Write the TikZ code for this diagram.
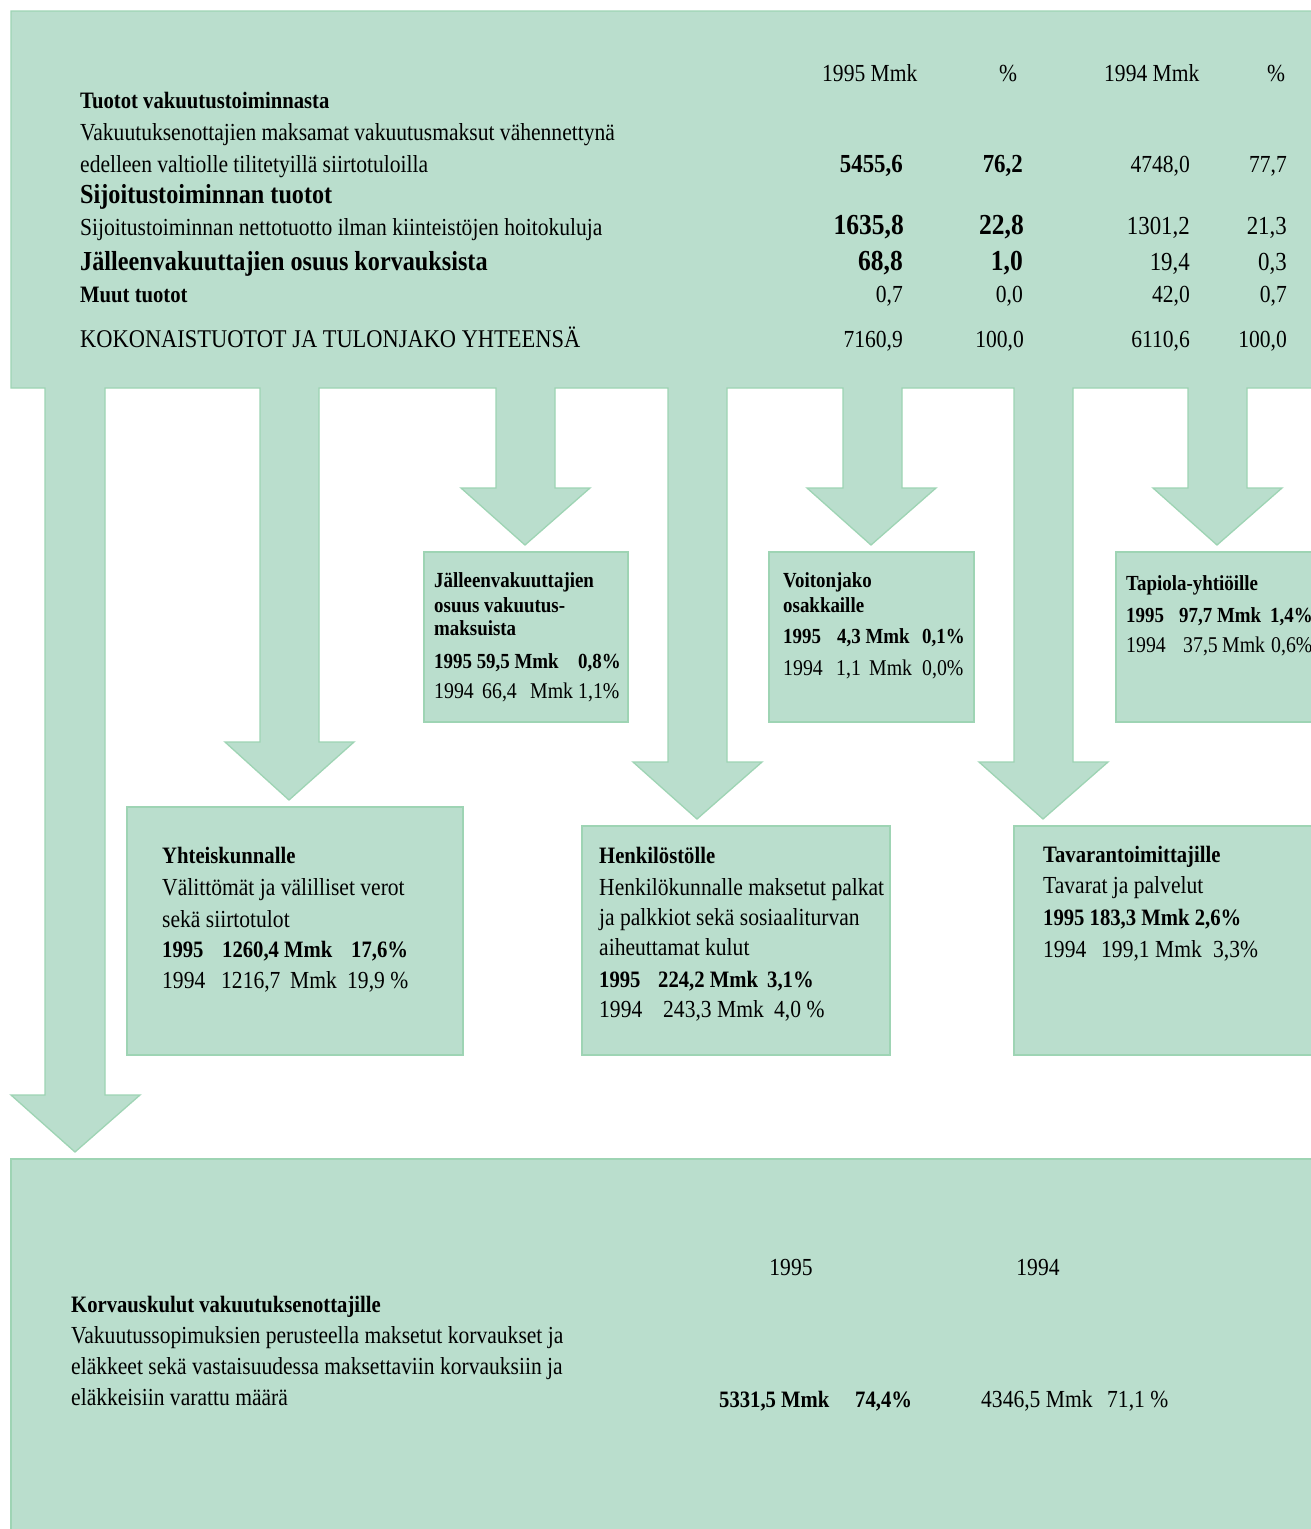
\documentclass[tikz,border=0pt]{standalone}
\usepackage{fontspec}
\setmainfont{Liberation Serif}[FakeStretch=0.88]
\definecolor{boxfill}{RGB}{186,222,205}
\definecolor{boxline}{RGB}{158,212,180}
\begin{document}
\begin{tikzpicture}[x=1pt,y=-1pt,
  panel/.style={fill=boxfill,draw=boxline,line width=1.3pt,line join=miter},
  L/.style={anchor=base west,inner sep=0pt},
  R/.style={anchor=base east,inner sep=0pt},
  C/.style={anchor=base,inner sep=0pt},
  rg/.style={font=\fontsize{24.5}{28}\selectfont},
  bd/.style={font=\fontsize{23.5}{28}\selectfont\bfseries},
  bdl/.style={font=\fontsize{27.5}{30}\selectfont\bfseries},
  nb/.style={font=\fontsize{26}{30}\selectfont\bfseries},
  nbl/.style={font=\fontsize{29}{30}\selectfont\bfseries},
  sm/.style={font=\fontsize{22.5}{26}\selectfont},
  smb/.style={font=\fontsize{21.5}{26}\selectfont\bfseries}]
\useasboundingbox (0,0) rectangle (1310,1529);
\fill[white] (0,0) rectangle (1310,1529);
% top panel with the arrows hanging from it
\draw[panel] (11,11) -- (1316,11) -- (1316,388)
 -- (1247,388) -- (1247,488) -- (1282,488) -- (1217,545) -- (1153,488) -- (1188,488) -- (1188,388)
 -- (1073,388) -- (1073,762) -- (1108,762) -- (1043,819) -- (979,762) -- (1014,762) -- (1014,388)
 -- (902,388) -- (902,488) -- (936,488) -- (871,545) -- (807,488) -- (843,488) -- (843,388)
 -- (727,388) -- (727,762) -- (762,762) -- (697,819) -- (633,762) -- (668,762) -- (668,388)
 -- (555,388) -- (555,488) -- (590,488) -- (525,545) -- (461,488) -- (496,488) -- (496,388)
 -- (319,388) -- (319,742) -- (354,742) -- (289,800) -- (225,742) -- (260,742) -- (260,388)
 -- (105,388) -- (105,1095) -- (140,1095) -- (75,1152) -- (11,1095) -- (45,1095) -- (45,388)
 -- (11,388) -- cycle;
% boxes
\draw[panel] (424,552) rectangle (628,722);
\draw[panel] (769,552) rectangle (974,722);
\draw[panel] (1116,552) rectangle (1316,722);
\draw[panel] (127,807) rectangle (463,1055);
\draw[panel] (582,826) rectangle (890,1055);
\draw[panel] (1014,826) rectangle (1316,1055);
\draw[panel] (11,1159) rectangle (1316,1536);

% ---- top table
\node[L,rg] (h95) at (822,81) {1995 Mmk};
\node[C,rg] (hp1) at (1008,81) {\%};
\node[L,rg] (h94) at (1104,81) {1994 Mmk};
\node[C,rg] (hp2) at (1276,81) {\%};

\node[L,bd] (t1) at (80,108) {Tuotot vakuutustoiminnasta};
\node[L,rg] (t2) at (80,140) {Vakuutuksenottajien maksamat vakuutusmaksut vähennettynä};
\node[L,rg] (t3) at (80,172) {edelleen valtiolle tilitetyillä siirtotuloilla};
\node[R,nb] (n1a) at (903,172) {5455,6};
\node[R,nb] (n1b) at (1023,172) {76,2};
\node[R,rg] (n1c) at (1190,172) {4748,0};
\node[R,rg] (n1d) at (1287,172) {77,7};

\node[L,bdl] (t4) at (80,203) {Sijoitustoiminnan tuotot};
\node[L,rg] (t5) at (80,235) {Sijoitustoiminnan nettotuotto ilman kiinteistöjen hoitokuluja};
\node[R,nbl] (n2a) at (904,234) {1635,8};
\node[R,nbl] (n2b) at (1024,234) {22,8};
\node[R,font=\fontsize{26}{30}\selectfont] (n2c) at (1190,234) {1301,2};
\node[R,font=\fontsize{26}{30}\selectfont] (n2d) at (1287,234) {21,3};

\node[L,bdl] (t6) at (80,270) {Jälleenvakuuttajien osuus korvauksista};
\node[R,nbl] (n3a) at (903,270) {68,8};
\node[R,nbl] (n3b) at (1023,270) {1,0};
\node[R,font=\fontsize{26}{30}\selectfont] (n3c) at (1190,270) {19,4};
\node[R,font=\fontsize{26}{30}\selectfont] (n3d) at (1287,270) {0,3};

\node[L,bd] (t7) at (80,302) {Muut tuotot};
\node[R,rg] (n4a) at (903,302) {0,7};
\node[R,rg] (n4b) at (1023,302) {0,0};
\node[R,rg] (n4c) at (1190,302) {42,0};
\node[R,rg] (n4d) at (1287,302) {0,7};

\node[L,font=\fontsize{25.5}{30}\selectfont] (t8) at (80,347) {KOKONAISTUOTOT JA TULONJAKO YHTEENSÄ};
\node[R,rg] (n5a) at (903,347) {7160,9};
\node[R,rg] (n5b) at (1024,347) {100,0};
\node[R,rg] (n5c) at (1190,347) {6110,6};
\node[R,rg] (n5d) at (1287,347) {100,0};

% ---- Jälleenvakuuttajien box
\node[L,smb] (ja1) at (434,587) {Jälleenvakuuttajien};
\node[L,smb] (ja2) at (434,612) {osuus vakuutus-};
\node[L,smb] (ja3) at (434,635) {maksuista};
\node[L,smb] (ja4) at (434,668) {1995 59,5 Mmk};
\node[L,smb] (ja5) at (578,668) {0,8\%};
\node[L,sm] (ja6) at (434,698) {1994};
\node[L,sm] (ja7) at (482,698) {66,4};
\node[L,sm] (ja8) at (530,698) {Mmk};
\node[L,sm] (ja9) at (578,698) {1,1\%};

% ---- Voitonjako box
\node[L,smb] (vo1) at (783,587) {Voitonjako};
\node[L,smb] (vo2) at (783,612) {osakkaille};
\node[L,smb] (vo3) at (783,643) {1995};
\node[L,smb] (vo4) at (837,643) {4,3 Mmk};
\node[L,smb] (vo5) at (922,643) {0,1\%};
\node[L,sm] (vo6) at (783,675) {1994};
\node[L,sm] (vo7) at (836,675) {1,1};
\node[L,sm] (vo8) at (869,675) {Mmk};
\node[L,sm] (vo9) at (922,675) {0,0\%};

% ---- Tapiola box
\node[L,smb] (ta1) at (1126,590) {Tapiola-yhtiöille};
\node[L,smb] (ta2) at (1126,622) {1995};
\node[L,smb] (ta3) at (1179,622) {97,7 Mmk};
\node[L,smb] (ta4) at (1270,622) {1,4\%};
\node[L,sm] (ta5) at (1126,652) {1994};
\node[L,sm] (ta6) at (1183,652) {37,5};
\node[L,sm] (ta7) at (1222,652) {Mmk};
\node[L,sm] (ta8) at (1271,652) {0,6\%};

% ---- Yhteiskunnalle box
\node[L,bd] (yh1) at (162,863) {Yhteiskunnalle};
\node[L,rg] (yh2) at (162,895) {Välittömät ja välilliset verot};
\node[L,rg] (yh3) at (162,927) {sekä siirtotulot};
\node[L,bd] (yh4) at (162,957) {1995};
\node[L,bd] (yh5) at (222,957) {1260,4 Mmk};
\node[L,bd] (yh6) at (351,957) {17,6\%};
\node[L,rg] (yh7) at (162,988) {1994};
\node[L,rg] (yh8) at (221,988) {1216,7};
\node[L,rg] (yh9) at (290,988) {Mmk};
\node[L,rg] (yh10) at (347,988) {19,9 \%};

% ---- Henkilöstölle box
\node[L,bd] (he1) at (599,863) {Henkilöstölle};
\node[L,rg] (he2) at (599,895) {Henkilökunnalle maksetut palkat};
\node[L,rg] (he3) at (599,925) {ja palkkiot sekä sosiaaliturvan};
\node[L,rg] (he4) at (599,955) {aiheuttamat kulut};
\node[L,bd] (he5) at (599,987) {1995};
\node[L,bd] (he6) at (658,987) {224,2 Mmk};
\node[L,bd] (he7) at (767,987) {3,1\%};
\node[L,rg] (he8) at (599,1017) {1994};
\node[L,rg] (he9) at (663,1017) {243,3 Mmk};
\node[L,rg] (he10) at (774,1017) {4,0 \%};

% ---- Tavarantoimittajille box
\node[L,bd] (tv1) at (1043,862) {Tavarantoimittajille};
\node[L,rg] (tv2) at (1043,893) {Tavarat ja palvelut};
\node[L,bd] (tv3) at (1043,925) {1995 183,3 Mmk 2,6\%};
\node[L,rg] (tv4) at (1043,957) {1994};
\node[L,rg] (tv5) at (1101,957) {199,1 Mmk};
\node[L,rg] (tv6) at (1213,957) {3,3\%};

% ---- bottom panel
\node[C,rg] (b95) at (791,1275) {1995};
\node[C,rg] (b94) at (1038,1275) {1994};
\node[L,bd] (k1) at (71,1312) {Korvauskulut vakuutuksenottajille};
\node[L,rg] (k2) at (71,1343) {Vakuutussopimuksien perusteella maksetut korvaukset ja};
\node[L,rg] (k3) at (71,1374) {eläkkeet sekä vastaisuudessa maksettaviin korvauksiin ja};
\node[L,rg] (k4) at (71,1405) {eläkkeisiin varattu määrä};
\node[L,bd] (k5) at (719,1407) {5331,5 Mmk};
\node[L,bd] (k6) at (855,1407) {74,4\%};
\node[L,rg] (k7) at (981,1407) {4346,5 Mmk};
\node[L,rg] (k8) at (1107,1407) {71,1 \%};
\end{tikzpicture}
\end{document}
